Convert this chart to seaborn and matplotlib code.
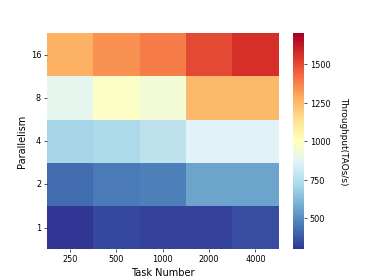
import matplotlib
matplotlib.use("Agg")
import matplotlib.pyplot as plt
import seaborn as sns
import pandas as pd

task_numbers = [250, 500, 1000, 2000, 4000]
parallelism = [16, 8, 4, 2, 1]

# throughput (TAOs/s), one row per parallelism level, top to bottom
p16 = [1270, 1340, 1385, 1500, 1560]
p8 = [890, 985, 945, 1250, 1250]
p4 = [705, 725, 765, 860, 860]
p2 = [425, 455, 465, 560, 560]
p1 = [305, 340, 330, 330, 350]

df = pd.DataFrame([p16, p8, p4, p2, p1], index=parallelism, columns=task_numbers)

fig = plt.figure(figsize=(6.4, 4.8), dpi=58.44)
ax = sns.heatmap(df, cmap="RdYlBu_r", vmin=300, vmax=1700,
                 cbar_kws={"ticks": [500, 750, 1000, 1250, 1500]})
ax.set_xlabel("Task Number", fontsize=12)
ax.set_ylabel("Parallelism", fontsize=12)
ax.tick_params(axis="y", rotation=0)
cbar = ax.collections[0].colorbar
cbar.set_label("Throughput(TAOs/s)", rotation=270, labelpad=22, fontsize=11)
cbar.outline.set_visible(False)

plt.savefig("out.png", dpi=58.44)
